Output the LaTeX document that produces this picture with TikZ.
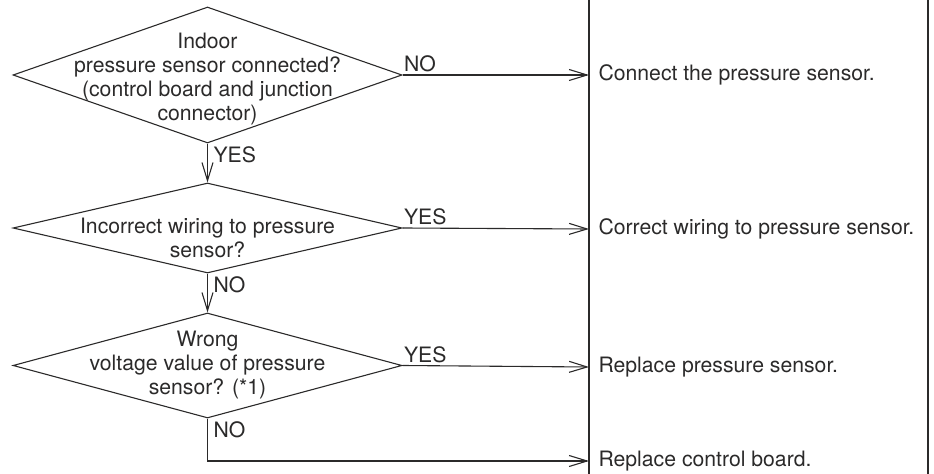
\documentclass[tikz,border=0pt]{standalone}
\usepackage{fontspec}
\setmainfont{TeX Gyre Heros}
\usetikzlibrary{arrows.meta,shapes.geometric,calc}
\definecolor{ink}{HTML}{2B2A2A}
\begin{document}
\begin{tikzpicture}[x=1bp,y=-1bp,
  line width=1.1bp, draw=ink, text=ink,
  every node/.style={font=\fontsize{21.2bp}{24bp}\selectfont},
  dia/.style={draw, diamond, inner sep=0pt, minimum width=389bp},
  qtext/.style={align=center, inner sep=0pt},
  res/.style={anchor=west, inner xsep=9bp, inner ysep=0pt},
  lbl/.style={anchor=base west, inner sep=0pt},
  flow/.style={-{Straight Barb[length=18bp,width=11bp]}}]
\useasboundingbox (0,0) rectangle (934,474);
% right column lines
\coordinate (bl1) at (589,0);
\coordinate (bl2) at (589,474);
\coordinate (br1) at (928,0);
\coordinate (br2) at (928,474);
\draw (bl1) -- (bl2);
\draw (br1) -- (br2);
% decisions
\node[dia, minimum height=136bp] (d1) at (207.5,75) {};
\node[dia, minimum height=90bp] (d2) at (207.5,228) {};
\node[dia, minimum height=105bp] (d3) at (207.5,365.5) {};
\node[qtext] (t1) at (207.5,79) {Indoor\\pressure sensor connected?\\(control board and junction\\connector)};
\node[qtext] (t2) at (207.5,238) {Incorrect wiring to pressure\\sensor?};
\node[qtext] (t3) at (207.5,365) {Wrong\\voltage value of pressure\\sensor? (*1)};
% results
\node[res] (r1) at (589,75) {Connect the pressure sensor.};
\node[res] (r2) at (589,229) {Correct wiring to pressure sensor.};
\node[res] (r3) at (589,367) {Replace pressure sensor.};
\node[res] (r4) at (589,461) {Replace control board.};
% connectors
\draw[flow] (d1.east) -- (r1.west);
\draw[flow] (d1.south) -- (d2.north);
\draw[flow] (d2.east) -- (r2.west);
\draw[flow] (d2.south) -- (d3.north);
\draw[flow] (d3.east) -- (r3.west);
\draw[flow] (d3.south) |- (r4.west);
% labels
\node[lbl] (l1) at ($(d1.east)+(1,-3)$) {NO};
\node[lbl] (l2) at ($(d1.south)+(5.5,19)$) {YES};
\node[lbl] (l3) at ($(d2.east)+(1,-3)$) {YES};
\node[lbl] (l4) at ($(d2.south)+(5.5,19)$) {NO};
\node[lbl] (l5) at ($(d3.east)+(1,-3)$) {YES};
\node[lbl] (l6) at ($(d3.south)+(5.5,19)$) {NO};
\end{tikzpicture}
\end{document}
